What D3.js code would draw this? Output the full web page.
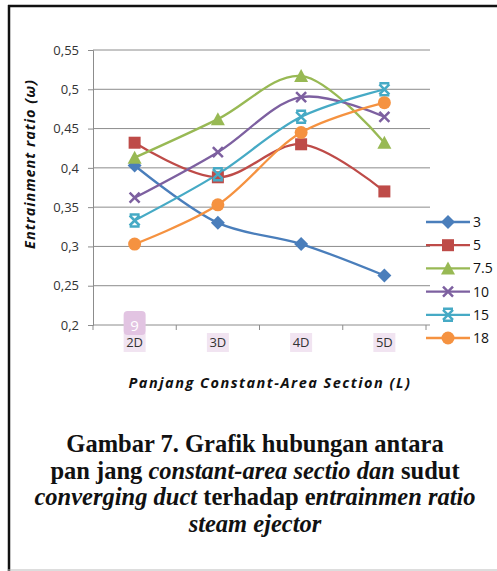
<!DOCTYPE html>
<html>
<head>
<meta charset="utf-8">
<script src="https://cdn.jsdelivr.net/npm/d3@7"></script>
<style>
body { margin: 0; background: #fff; }
svg { display: block; }
</style>
</head>
<body>
<script>
// Data
var categories = ["2D", "3D", "4D", "5D"];
var seriesNames = ["3", "5", "7.5", "10", "15", "18"];
var s3   = [0.403, 0.330, 0.303, 0.263];
var s5   = [0.432, 0.388, 0.430, 0.370];
var s7_5 = [0.413, 0.462, 0.517, 0.432];
var s10  = [0.362, 0.420, 0.490, 0.465];
var s15  = [0.333, 0.392, 0.465, 0.500];
var s18  = [0.303, 0.353, 0.445, 0.483];
var yTicks = [0.2, 0.25, 0.3, 0.35, 0.4, 0.45, 0.5, 0.55];
var captionLines = [
  [["Gambar 7. Grafik hubungan antara", "normal"]],
  [["pan jang ", "normal"], ["constant-area sectio dan", "italic"], [" sudut", "normal"]],
  [["converging duct", "italic"], [" terhadap e", "normal"], ["ntrainmen ratio", "italic"]],
  [["steam ejector", "italic"]]
];

var allSeries = [s3, s5, s7_5, s10, s15, s18];
var colors = ["#4a7ebb", "#be4b48", "#98b954", "#7d60a0", "#46aac5", "#f59240"];
var shapes = ["diamond", "square", "triangle", "x", "star", "circle"];

var w = 497, h = 571;
var svg = d3.select("body").append("svg").attr("width", w).attr("height", h);

// frame
svg.append("line").attr("x1", 8).attr("x2", w).attr("y1", 6).attr("y2", 6)
   .attr("stroke", "#111").attr("stroke-width", 2.5);
svg.append("line").attr("x1", 9).attr("x2", 9).attr("y1", 5).attr("y2", h)
   .attr("stroke", "#111").attr("stroke-width", 2.5);
svg.append("line").attr("x1", 8).attr("x2", w).attr("y1", 570).attr("y2", 570)
   .attr("stroke", "#bbb").attr("stroke-width", 1);

var pLeft = 93, pRight = 426, pTop = 50, pBottom = 325;

var x = d3.scaleBand().domain(categories).range([pLeft, pRight]);
var y = d3.scaleLinear().domain([0.2, 0.55]).range([pBottom, pTop]);
var fmt = function(d) { return String(+d.toFixed(2)).replace(".", ","); };

// gridlines
svg.append("g").selectAll("line").data(yTicks.slice(1)).enter().append("line")
   .attr("x1", pLeft).attr("x2", pRight + 4)
   .attr("y1", function(d) { return y(d); }).attr("y2", function(d) { return y(d); })
   .attr("stroke", "#8c8c8c").attr("stroke-width", 1);

// y axis
var yAxis = svg.append("g").attr("transform", "translate(" + pLeft + ",0)")
   .call(d3.axisLeft(y).tickValues(yTicks).tickFormat(fmt).tickSize(5).tickPadding(9));
yAxis.select(".domain").attr("stroke", "#8c8c8c");
yAxis.selectAll(".tick line").attr("stroke", "#8c8c8c");
yAxis.selectAll("text").attr("font-family", "Open Sans").attr("font-size", 13).attr("fill", "#333");

// x axis
var xAxis = svg.append("g").attr("transform", "translate(0," + pBottom + ")");
xAxis.append("line").attr("x1", pLeft).attr("x2", pRight + 4).attr("y1", 0).attr("y2", 0)
   .attr("stroke", "#8c8c8c");
xAxis.selectAll(".bt").data(d3.range(categories.length + 1)).enter().append("line")
   .attr("x1", function(i) { return pLeft + i * x.bandwidth(); })
   .attr("x2", function(i) { return pLeft + i * x.bandwidth(); })
   .attr("y1", 0).attr("y2", 5).attr("stroke", "#8c8c8c");
var xl = xAxis.selectAll(".lab").data(categories).enter().append("g")
   .attr("transform", function(d) { return "translate(" + (x(d) + x.bandwidth() / 2) + ",0)"; });
xl.append("rect").attr("x", -11).attr("y", 8).attr("width", 22).attr("height", 19)
   .attr("fill", "#f1e4f1");
xl.append("text").attr("y", 22).attr("text-anchor", "middle")
   .attr("font-family", "Open Sans").attr("font-size", 13).attr("fill", "#333")
   .text(function(d) { return d; });

// page number badge
svg.append("rect").attr("x", x("2D") + x.bandwidth() / 2 - 11).attr("y", pBottom - 14)
   .attr("width", 22).attr("height", 24).attr("rx", 4).attr("fill", "#e2c4e2");
svg.append("text").attr("x", x("2D") + x.bandwidth() / 2).attr("y", pBottom + 6)
   .attr("text-anchor", "middle").attr("font-family", "Open Sans").attr("font-size", 15)
   .attr("fill", "#fff").text("9");

// axis titles
svg.append("text").attr("transform", "translate(35,164) rotate(-90)")
   .attr("text-anchor", "middle").attr("font-family", "Open Sans").attr("font-size", 14.5)
   .attr("font-weight", "bold").attr("font-style", "italic").attr("fill", "#111")
   .attr("letter-spacing", 1).text("Entrainment ratio (ω)");
svg.append("text").attr("x", 270).attr("y", 388).attr("text-anchor", "middle")
   .attr("font-family", "Open Sans").attr("font-size", 14.5).attr("font-weight", "bold")
   .attr("font-style", "italic").attr("fill", "#111").attr("letter-spacing", 1.5)
   .text("Panjang Constant-Area Section (L)");

// markers
function marker(g, shape, color) {
  if (shape === "diamond") {
    g.append("path").attr("d", "M0,-7L7,0L0,7L-7,0Z").attr("fill", color);
  } else if (shape === "square") {
    g.append("rect").attr("x", -6).attr("y", -6).attr("width", 12).attr("height", 12).attr("fill", color);
  } else if (shape === "triangle") {
    g.append("path").attr("d", "M0,-7L7,6L-7,6Z").attr("fill", color);
  } else if (shape === "x") {
    g.append("path").attr("d", "M-5,-5L5,5M5,-5L-5,5").attr("stroke", color).attr("stroke-width", 2.5);
  } else if (shape === "star") {
    g.append("path").attr("d", "M-5,-5L5,5M5,-5L-5,5M-5,-6H5M-5,6H5").attr("stroke", color).attr("stroke-width", 2.5);
  } else {
    g.append("circle").attr("r", 6.5).attr("fill", color);
  }
}

var line = d3.line()
   .x(function(d, i) { return x(categories[i]) + x.bandwidth() / 2; })
   .y(function(d) { return y(d); })
   .curve(d3.curveCatmullRom.alpha(0.5));

allSeries.forEach(function(vals, k) {
  svg.append("path").datum(vals).attr("d", line).attr("fill", "none")
     .attr("stroke", colors[k]).attr("stroke-width", 2.3);
});
allSeries.forEach(function(vals, k) {
  vals.forEach(function(v, i) {
    var g = svg.append("g").attr("transform", "translate(" + (x(categories[i]) + x.bandwidth() / 2) + "," + y(v) + ")");
    marker(g, shapes[k], colors[k]);
  });
});

// legend
var legend = svg.append("g").attr("transform", "translate(426,222)");
seriesNames.forEach(function(name, k) {
  var g = legend.append("g").attr("transform", "translate(0," + (k * 23.2) + ")");
  g.append("line").attr("x1", 0).attr("x2", 44).attr("stroke", colors[k]).attr("stroke-width", 2.3);
  marker(g.append("g").attr("transform", "translate(22,0)"), shapes[k], colors[k]);
  g.append("text").attr("x", 47).attr("y", 5).attr("font-family", "Open Sans")
   .attr("font-size", 14).attr("fill", "#111").text(name);
});

// caption
captionLines.forEach(function(parts, i) {
  var t = svg.append("text").attr("x", 255).attr("y", 452 + i * 26.5).attr("text-anchor", "middle")
     .attr("font-family", "Liberation Serif").attr("font-size", 24.5).attr("font-weight", "bold")
     .attr("fill", "#111");
  parts.forEach(function(p) {
    t.append("tspan").attr("font-style", p[1]).text(p[0]);
  });
});
</script>
</body>
</html>
